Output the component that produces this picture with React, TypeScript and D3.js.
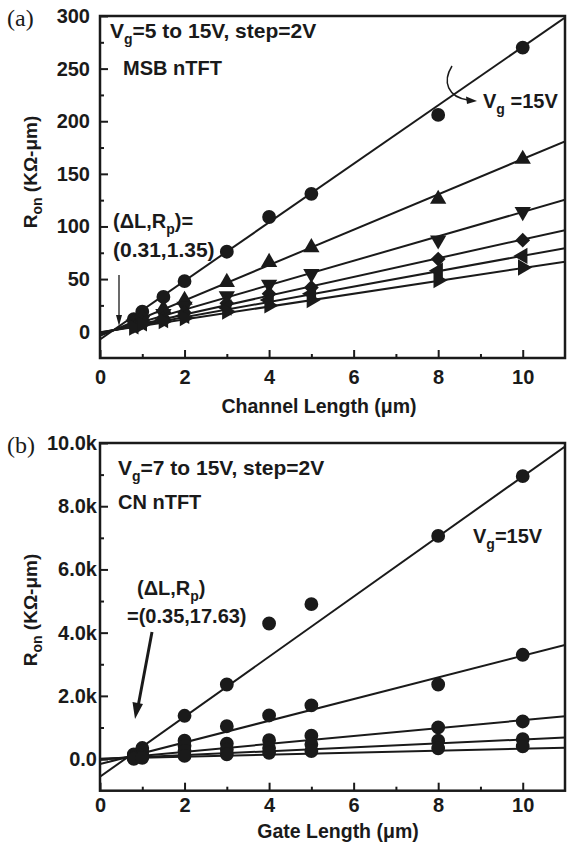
import React, { useEffect, useRef } from 'react';
import * as d3 from 'd3';

// (a) MSB nTFT, Ron vs channel length
const lengthA = [0.8, 1, 1.5, 2, 3, 4, 5, 8, 10];
const ronA1 = [12, 19, 33, 48, 76, 109, 131, 206, 270];
const ronA2 = [9, 14, 22, 30, 47, 66, 80, 126, 164];
const ronA3 = [7, 11, 17, 24, 34, 45, 55, 87, 114];
const ronA4 = [6, 9, 13, 18, 27, 36, 42, 69, 87];
const ronA5 = [5, 8, 11, 15, 23, 30, 36, 58, 72];
const ronA6 = [4, 7, 10, 13, 19, 25, 30, 49, 61];
const shapesA = ['circle', 'up', 'down', 'diamond', 'left', 'right'];
const fitSlopeA = [27.8, 16.8, 11.6, 8.9, 7.3, 6.1];
const fitInterceptA = [-7.3, -3.9, -2.2, -1.4, -0.9, -0.55];
const yTicksA = [0, 50, 100, 150, 200, 250, 300];

// (b) CN nTFT, Ron vs gate length
const lengthB = [0.8, 1, 2, 3, 4, 5, 8, 10];
const ronB1 = [150, 350, 1370, 2360, 4290, 4900, 7060, 8950];
const ronB2 = [100, 250, 580, 1040, 1380, 1700, 2360, 3300];
const ronB3 = [60, 130, 420, 490, 600, 740, 1000, 1190];
const ronB4 = [30, 80, 260, 300, 350, 470, 580, 630];
const ronB5 = [10, 40, 100, 150, 200, 256, 340, 400];
const shapesB = ['circle', 'circle', 'circle', 'circle', 'circle'];
const fitSlopeB = [950, 343, 125, 62, 32];
const fitInterceptB = [-560, -160, -20, 0, 10];
const yTicksB = [0, 2000, 4000, 6000, 8000, 10000];

const xTicks = [0, 2, 4, 6, 8, 10];
const FONT = '"Liberation Sans", Arial, sans-serif';
const INK = '#1a1a1a';

type Panel = {
  id: string;
  tag: string;
  top: number;
  bottom: number;
  yDomain: [number, number];
  yTicks: number[];
  yFormat: (v: number) => string;
  yPad: number;
  xPad: number;
  xs: number[];
  series: number[][];
  shapes: string[];
  slopes: number[];
  intercepts: number[];
};

const symbolFor = (shape: string) => {
  const gen = d3.symbol();
  if (shape === 'circle') return { d: gen.type(d3.symbolCircle).size(150)()!, rot: 0 };
  if (shape === 'diamond') return { d: gen.type(d3.symbolSquare).size(110)()!, rot: 45 };
  const rot = { up: 0, down: 180, left: -90, right: 90 }[shape] ?? 0;
  return { d: gen.type(d3.symbolTriangle).size(115)()!, rot };
};

function drawPanel(svg: d3.Selection<SVGSVGElement, unknown, null, undefined>, p: Panel) {
  const x = d3.scaleLinear().domain([0, 11]).range([100, 565]);
  const y = d3.scaleLinear().domain(p.yDomain).range([p.bottom, p.top]);
  const g = svg.append('g');

  g.append('clipPath')
    .attr('id', `clip-${p.id}`)
    .append('rect')
    .attr('x', 100)
    .attr('y', p.top)
    .attr('width', 465)
    .attr('height', p.bottom - p.top);

  // fit lines
  const line = d3.line<number[]>().x(d => x(d[0])).y(d => y(d[1]));
  const plot = g.append('g').attr('clip-path', `url(#clip-${p.id})`);
  p.slopes.forEach((s, i) => {
    const pts = [0, 11].map(v => [v, s * v + p.intercepts[i]]);
    plot.append('path')
      .attr('d', line(pts))
      .attr('fill', 'none')
      .attr('stroke', INK)
      .attr('stroke-width', 2);
  });

  // markers
  p.series.forEach((vals, i) => {
    const sym = symbolFor(p.shapes[i]);
    plot.selectAll(null)
      .data(vals)
      .enter()
      .append('path')
      .attr('d', sym.d)
      .attr('transform', (v, j) => `translate(${x(p.xs[j])},${y(v)}) rotate(${sym.rot})`)
      .attr('fill', INK);
  });

  // axes (ticks pointing inward)
  const styleAxis = (a: d3.Selection<SVGGElement, unknown, null, undefined>) => {
    a.select('.domain').remove();
    a.selectAll('line').attr('stroke', INK).attr('stroke-width', 2);
    a.selectAll('text')
      .attr('font-family', FONT)
      .attr('font-weight', 'bold')
      .attr('font-size', 20)
      .attr('fill', INK);
  };
  const minorY = d3.range(p.yDomain[0], p.yDomain[1] + 1, (p.yTicks[1] - p.yTicks[0]) / 2)
    .filter(v => !p.yTicks.includes(v) && v > p.yDomain[0]);

  g.append('g').attr('transform', 'translate(100,0)')
    .call(d3.axisLeft(y).tickValues(p.yTicks).tickSize(-8).tickPadding(p.yPad).tickFormat(p.yFormat as any))
    .call(styleAxis);
  g.append('g').attr('transform', 'translate(100,0)')
    .call(d3.axisLeft(y).tickValues(minorY).tickSize(-4).tickFormat(() => ''))
    .call(styleAxis);
  g.append('g').attr('transform', `translate(0,${p.bottom})`)
    .call(d3.axisBottom(x).tickValues(xTicks).tickSize(-8).tickPadding(p.xPad).tickFormat(d3.format('d') as any))
    .call(styleAxis);
  g.append('g').attr('transform', `translate(0,${p.bottom})`)
    .call(d3.axisBottom(x).tickValues([1, 3, 5, 7, 9]).tickSize(-4).tickFormat(() => ''))
    .call(styleAxis);

  // frame
  g.append('rect')
    .attr('x', 100)
    .attr('y', p.top)
    .attr('width', 465)
    .attr('height', p.bottom - p.top)
    .attr('fill', 'none')
    .attr('stroke', INK)
    .attr('stroke-width', 2.5);

  // panel tag
  g.append('text')
    .attr('x', 7)
    .attr('y', p.top + 10)
    .attr('font-family', '"Liberation Serif", "Times New Roman", serif')
    .attr('font-size', 24)
    .attr('fill', INK)
    .text(p.tag);

  // y title
  const yt = g.append('text')
    .attr('transform', `translate(37,${p.id === 'a' ? 172 : 610}) rotate(-90)`)
    .attr('text-anchor', 'middle')
    .attr('font-family', FONT)
    .attr('font-weight', 'bold')
    .attr('font-size', 19)
    .attr('fill', INK);
  yt.append('tspan').text('R');
  yt.append('tspan').attr('dy', 5).attr('font-size', 14).text('on');
  yt.append('tspan').attr('dy', -5).text(' (KΩ-μm)');

  return { x, y, g };
}

const App: React.FC = () => {
  const svgRef = useRef<SVGSVGElement>(null);

  useEffect(() => {
    if (!svgRef.current) return;
    const svg = d3.select(svgRef.current);
    svg.selectAll('*').remove();

    const txt = (g: any, px: number, py: number, size = 20) =>
      g.append('text')
        .attr('x', px)
        .attr('y', py)
        .attr('font-family', FONT)
        .attr('font-weight', 'bold')
        .attr('font-size', size)
        .attr('fill', INK);

    const withSub = (t: any, main: string, sub: string, rest: string) => {
      t.append('tspan').text(main);
      t.append('tspan').attr('dy', 6).attr('font-size', 14).text(sub);
      t.append('tspan').attr('dy', -6).text(rest);
      return t;
    };

    // ---------- panel (a)
    const A = drawPanel(svg, {
      id: 'a',
      tag: '(a)',
      top: 16,
      bottom: 358,
      yDomain: [-25, 300],
      yTicks: yTicksA,
      yFormat: v => String(v),
      yPad: 10,
      xPad: 12,
      xs: lengthA,
      series: [ronA1, ronA2, ronA3, ronA4, ronA5, ronA6],
      shapes: shapesA,
      slopes: fitSlopeA,
      intercepts: fitInterceptA,
    });

    withSub(txt(A.g, 110, 38, 21), 'V', 'g', '=5 to 15V, step=2V');
    txt(A.g, 123, 75).text('MSB nTFT');
    withSub(txt(A.g, 113, 228), '(ΔL,R', 'p', ')=');
    txt(A.g, 113, 257, 21).text('(0.31,1.35)');
    withSub(txt(A.g, 483, 108), 'V', 'g', ' =15V');

    // curved arrow to the Vg=15V line
    A.g.append('path')
      .attr('d', 'M452,66 C442,82 448,97 468,100')
      .attr('fill', 'none')
      .attr('stroke', INK)
      .attr('stroke-width', 1.5);
    A.g.append('path')
      .attr('d', 'M477,101 L466,96.5 L467,104 Z')
      .attr('fill', INK);

    // vertical arrow to the crossing point
    A.g.append('line')
      .attr('x1', 119).attr('y1', 275)
      .attr('x2', 119).attr('y2', 318)
      .attr('stroke', INK)
      .attr('stroke-width', 1.3);
    A.g.append('path')
      .attr('d', 'M119,326 L116,315 L122,315 Z')
      .attr('fill', INK);

    txt(A.g, 319, 413, 19.5).attr('text-anchor', 'middle').text('Channel Length (μm)');

    // ---------- panel (b)
    const B = drawPanel(svg, {
      id: 'b',
      tag: '(b)',
      top: 443,
      bottom: 790.7,
      yDomain: [-1000, 10000],
      yTicks: yTicksB,
      yFormat: v => (v === 0 ? '0.0' : `${(v / 1000).toFixed(1)}k`),
      yPad: 3,
      xPad: 7,
      xs: lengthB,
      series: [ronB1, ronB2, ronB3, ronB4, ronB5],
      shapes: shapesB,
      slopes: fitSlopeB,
      intercepts: fitInterceptB,
    });

    withSub(txt(B.g, 118, 475, 21), 'V', 'g', '=7 to 15V, step=2V');
    txt(B.g, 118, 509).text('CN nTFT');
    withSub(txt(B.g, 137, 595), '(ΔL,R', 'p', ')');
    txt(B.g, 127, 623).text('=(0.35,17.63)');
    withSub(txt(B.g, 473, 543), 'V', 'g', '=15V');

    B.g.append('line')
      .attr('x1', 152).attr('y1', 632)
      .attr('x2', 138.5).attr('y2', 704)
      .attr('stroke', INK)
      .attr('stroke-width', 3);
    B.g.append('path')
      .attr('d', 'M135,719 L132.5,702 L143,704 Z')
      .attr('fill', INK);

    txt(B.g, 338, 838, 19.5).attr('text-anchor', 'middle').text('Gate Length (μm)');
  }, []);

  return (
    <div style={{ position: 'absolute', left: 0, top: 0, width: 567, height: 846, background: '#fff' }}>
      <svg ref={svgRef} width={567} height={846} />
    </div>
  );
};

export default App;
